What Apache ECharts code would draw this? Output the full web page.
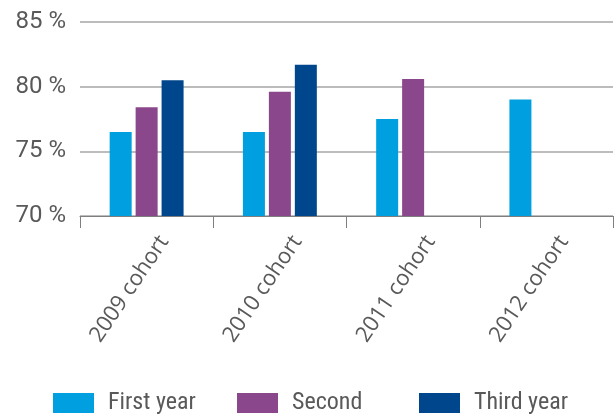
<!DOCTYPE html>
<html>
<head>
<meta charset="utf-8">
<style>
  html, body { margin: 0; padding: 0; background: #fff; }
  #chart { width: 615px; height: 416px; }
</style>
<script src="https://cdn.jsdelivr.net/npm/echarts@6/dist/echarts.min.js"></script>
</head>
<body>
<div id="chart"></div>
<script>
// Cohort completion rates (%) by year of study
const categories = ['2009 cohort', '2010 cohort', '2011 cohort', '2012 cohort'];
const seriesNames = ['First year', 'Second', 'Third year'];
const firstYear = [76.5, 76.5, 77.5, 79.0];
const secondYear = [78.4, 79.6, 80.6, null];
const thirdYear = [80.5, 81.7, null, null];
const yTicks = [70, 75, 80, 85];

const colors = ['#009fdf', '#8b478b', '#00468c'];
const legendLeft = [53, 237, 419];

const AXIS_FONT = 'Roboto, "Liberation Sans", sans-serif';
const CAT_FONT = '"Open Sans", "DejaVu Sans", sans-serif';
const LEGEND_FONT = '"Liberation Sans Narrow", "Roboto Condensed", Roboto, sans-serif';
const TEXT = '#595959';

const chart = echarts.init(document.getElementById('chart'), null, { renderer: 'canvas' });

function bar(name, data, color) {
  return {
    name: name,
    type: 'bar',
    data: data,
    barWidth: 22,
    barGap: '18%',
    itemStyle: { color: color },
    emphasis: { disabled: true }
  };
}

// one legend block per series so each entry sits in its own slot
const legends = seriesNames.map((n, i) => ({
  data: [n],
  left: legendLeft[i],
  top: 391,
  padding: 0,
  itemWidth: 41,
  itemHeight: 20,
  icon: 'rect',
  textStyle: { fontFamily: LEGEND_FONT, fontSize: 24, color: TEXT, padding: [0, 0, 0, 9] }
}));

chart.setOption({
  animation: false,
  grid: { left: 80, right: 2, top: 22, bottom: 200, containLabel: false },
  legend: legends,
  xAxis: {
    type: 'category',
    data: categories,
    axisLine: { lineStyle: { color: '#7f7f7f', width: 1 } },
    axisTick: { show: true, length: 12, lineStyle: { color: '#7f7f7f' } },
    axisLabel: {
      rotate: 56,
      margin: 10,
      fontFamily: CAT_FONT,
      fontSize: 22,
      lineHeight: 42,
      color: TEXT,
      interval: 0,
      // leading blank line drops the label below the tick, beside the bars
      formatter: v => '\n' + v
    }
  },
  yAxis: {
    type: 'value',
    min: yTicks[0],
    max: yTicks[yTicks.length - 1],
    interval: 5,
    axisLine: { show: false },
    axisTick: { show: false },
    splitLine: { lineStyle: { color: '#a6a6a6', width: 1.5 } },
    axisLabel: {
      margin: 14,
      fontFamily: AXIS_FONT,
      fontSize: 24,
      color: TEXT,
      formatter: v => v + ' %'
    }
  },
  series: [
    bar(seriesNames[0], firstYear, colors[0]),
    bar(seriesNames[1], secondYear, colors[1]),
    bar(seriesNames[2], thirdYear, colors[2])
  ]
});
</script>
</body>
</html>
